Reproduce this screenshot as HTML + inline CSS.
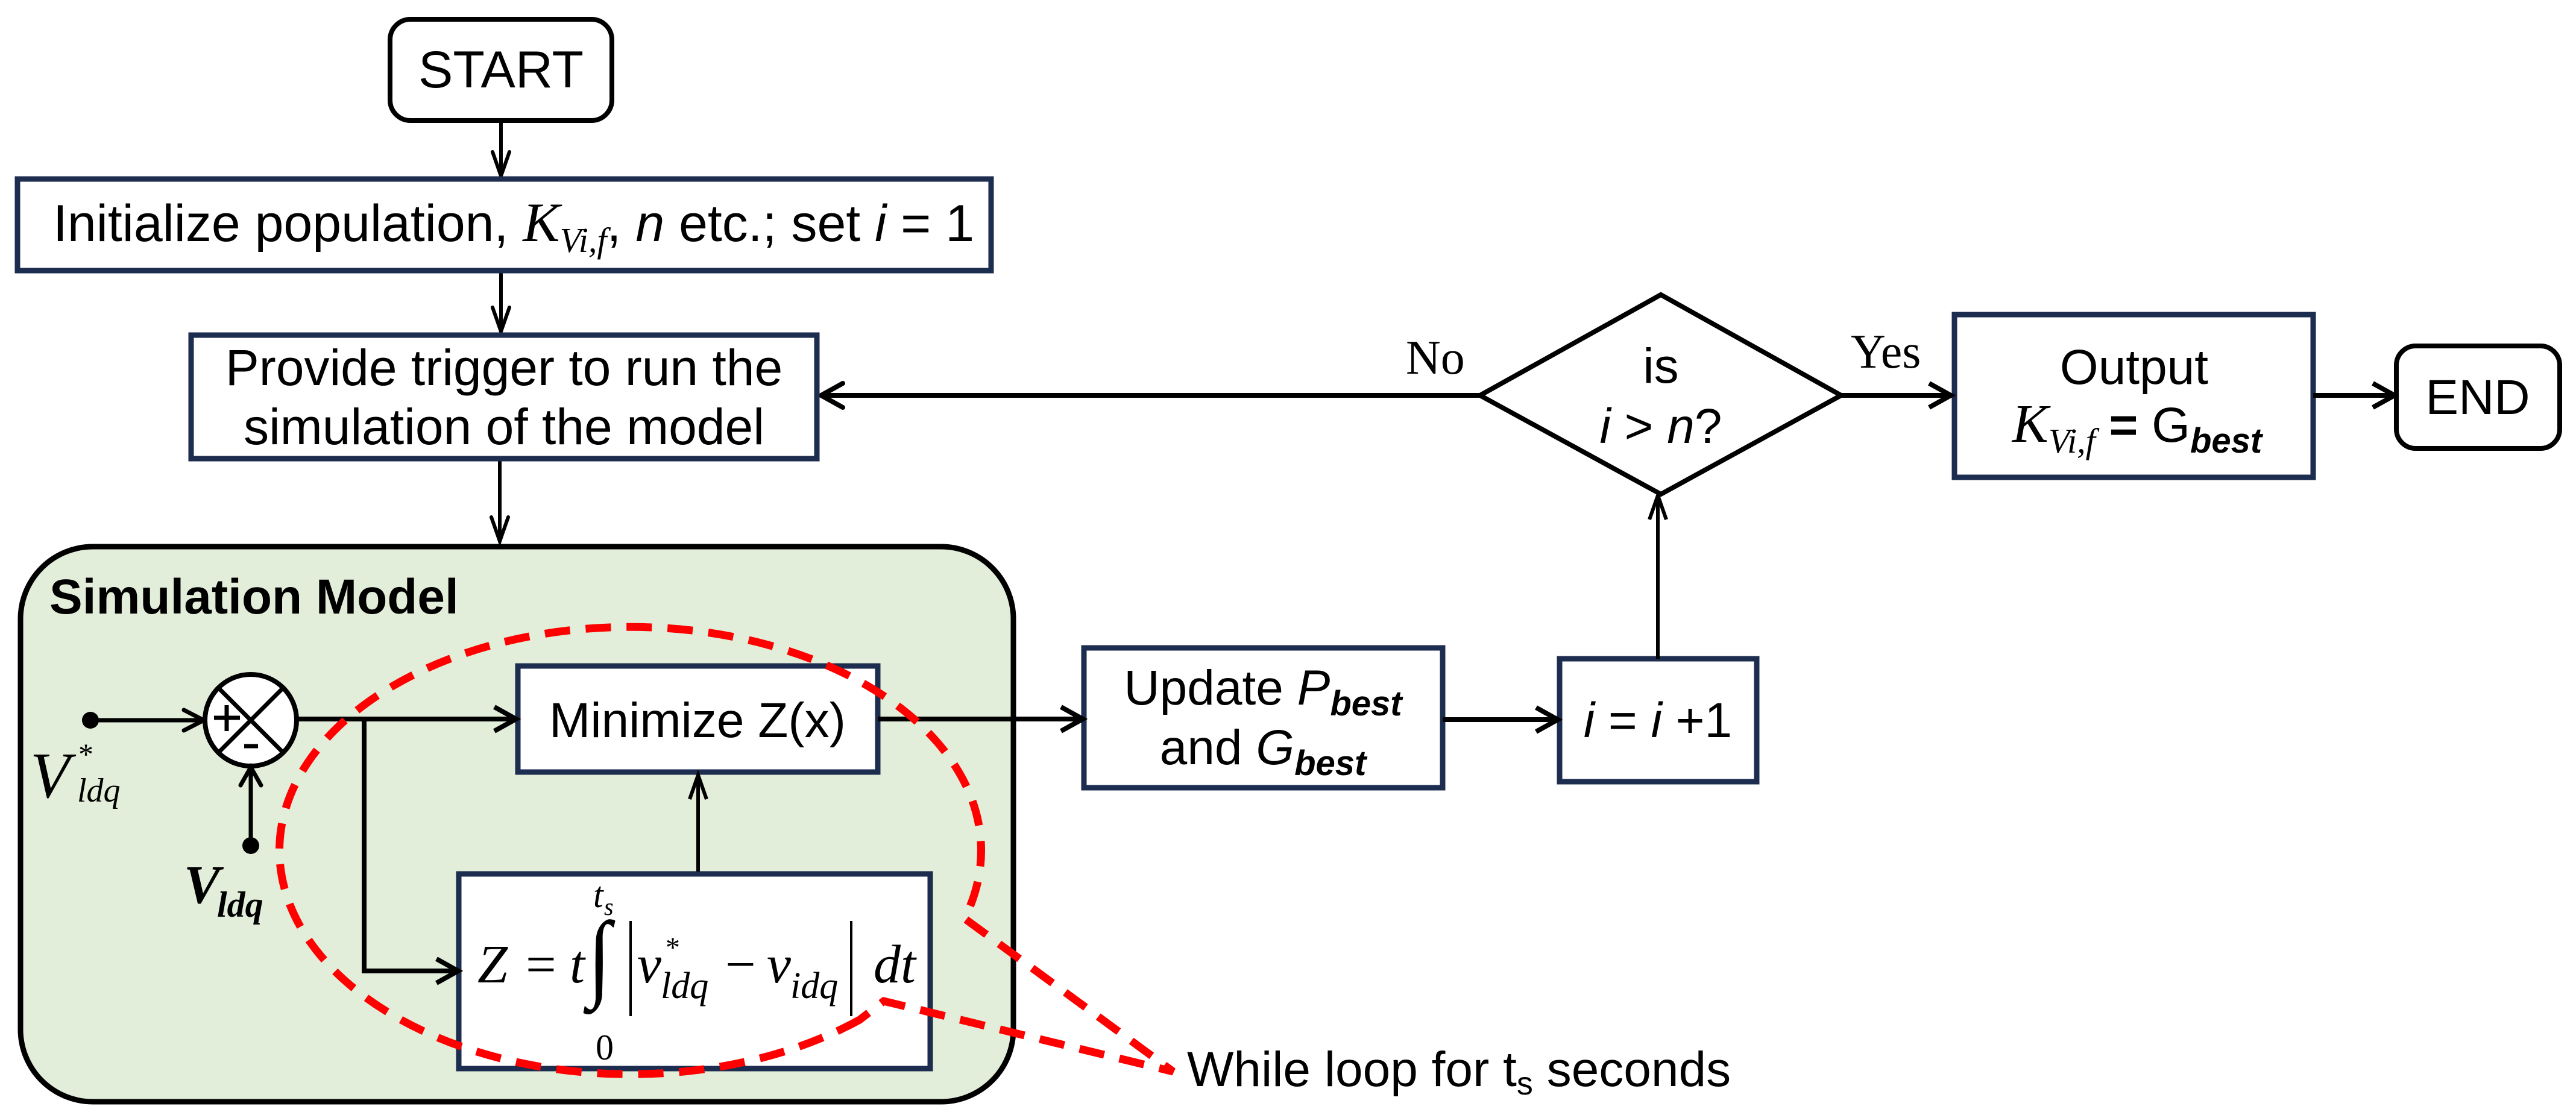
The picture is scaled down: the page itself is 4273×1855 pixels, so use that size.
<!DOCTYPE html>
<html><head><meta charset="utf-8"><style>
html,body{margin:0;padding:0;background:#fff;width:4273px;height:1855px;overflow:hidden}
svg{display:block}
.a{font-family:"Liberation Sans",Arial,sans-serif}
.s{font-family:"Liberation Serif","Times New Roman",serif}
</style></head><body>
<svg width="4273" height="1855" viewBox="0 0 4273 1855" xmlns="http://www.w3.org/2000/svg">
<g fill="none" stroke="#000" stroke-width="6" stroke-linecap="round" stroke-linejoin="miter">
<rect x="647" y="32" width="368" height="168" rx="34" stroke-width="8" fill="#fff"/>
<line x1="831" y1="200" x2="831" y2="290"/><polyline points="817,252 831,292 845,252"/>
<line x1="831" y1="453" x2="831" y2="548"/><polyline points="817,510 831,550 845,510"/>
<line x1="829" y1="765" x2="829" y2="898"/><polyline points="815,858 829,898 843,858"/>
<line x1="2455" y1="656" x2="1365" y2="656" stroke-width="8"/><polyline points="1398,636 1362,656 1398,676" stroke-width="8"/>
</g>
<g stroke="#1c2d4f" stroke-width="9" fill="#fff">
<rect x="29" y="297" width="1615" height="152"/>
<rect x="317" y="556" width="1038" height="205"/>
<rect x="3242" y="522" width="595" height="270"/>
<rect x="1798" y="1075" width="595" height="232"/>
<rect x="2587" y="1093" width="327" height="204"/>
</g>
<rect x="34" y="907" width="1647" height="921" rx="120" fill="#e2eed9" stroke="#000" stroke-width="9"/>
<g stroke="#1c2d4f" stroke-width="9" fill="#fff">
<rect x="859" y="1105" width="597" height="176"/>
<rect x="761" y="1450" width="782" height="323"/>
</g>
<g fill="none" stroke="#000" stroke-width="6">
<polygon points="2755,489 3054,656 2755,820 2455,656" fill="#fff" stroke-width="8"/>
<line x1="3054" y1="656" x2="3232" y2="656" stroke-width="8"/><polyline points="3200,636 3236,656 3200,676" stroke-width="8"/>
<line x1="3837" y1="656" x2="3968" y2="656" stroke-width="8"/><polyline points="3936,636 3972,656 3936,676" stroke-width="8"/>
<rect x="3975" y="574" width="271" height="170" rx="32" stroke-width="8" fill="#fff"/>
<line x1="2750" y1="1093" x2="2750" y2="824"/><polyline points="2736,862 2750,822 2764,862"/>
<line x1="2393" y1="1194" x2="2580" y2="1194" stroke-width="8"/><polyline points="2548,1174 2584,1194 2548,1214" stroke-width="8"/>
<line x1="1456" y1="1193" x2="1792" y2="1193" stroke-width="8"/><polyline points="1760,1173 1796,1193 1760,1213" stroke-width="8"/>
<line x1="150" y1="1195" x2="336" y2="1195" stroke-width="7"/><polyline points="305,1178 338,1195 305,1212" stroke-width="7" stroke-linecap="round"/>
<circle cx="416" cy="1195" r="76" fill="#fff" stroke-width="8"/>
<line x1="362" y1="1141" x2="470" y2="1249" stroke-width="7"/><line x1="470" y1="1141" x2="362" y2="1249" stroke-width="7"/>
<line x1="355" y1="1191" x2="398" y2="1191" stroke-width="7"/><line x1="376" y1="1170" x2="376" y2="1213" stroke-width="7"/>
<line x1="405" y1="1238" x2="428" y2="1238" stroke-width="7"/>
<line x1="416" y1="1403" x2="416" y2="1275" stroke-width="7"/><polyline points="399,1303 416,1273 433,1303" stroke-width="7" stroke-linecap="round"/>
<line x1="492" y1="1193" x2="852" y2="1193" stroke-width="8"/><polyline points="820,1173 856,1193 820,1213" stroke-width="8"/>
<polyline points="604,1193 604,1611 755,1611" stroke-width="8"/><polyline points="724,1591 760,1611 724,1631" stroke-width="8"/>
<line x1="1158" y1="1446" x2="1158" y2="1290" stroke-width="6"/><polyline points="1144,1326 1158,1286 1172,1326"/>
</g>
<circle cx="150" cy="1195" r="14" fill="#000"/>
<circle cx="416" cy="1403" r="14" fill="#000"/>
<g fill="none" stroke="#f00" stroke-width="13" stroke-dasharray="42,26">
<path d="M 1426 1692 A 582 371 0 1 1 1600 1524 L 1946 1778 L 1466 1661 Z"/>
</g>
<g class="a" fill="#000" font-size="86">
<text x="831" y="145" text-anchor="middle">START</text>
<text x="88" y="400">Initialize population, <tspan class="s" font-style="italic" font-size="92">K</tspan><tspan class="s" font-style="italic" font-size="58" dy="18">Vi,f</tspan><tspan dy="-18">, </tspan><tspan font-style="italic">n</tspan> etc.; set <tspan font-style="italic">i</tspan> = 1</text>
<text x="836" y="639" text-anchor="middle" font-size="84">Provide trigger to run the</text>
<text x="836" y="737" text-anchor="middle" font-size="84">simulation of the model</text>
<text x="82" y="1018" font-weight="bold" font-size="82">Simulation Model</text>
<text x="1157" y="1223" text-anchor="middle" font-size="82">Minimize Z(x)</text>
<text x="2095" y="1169" text-anchor="middle" font-size="82">Update <tspan font-style="italic">P</tspan><tspan font-style="italic" font-weight="bold" font-size="58" dy="18">best</tspan></text>
<text x="2095" y="1268" text-anchor="middle" font-size="82">and <tspan font-style="italic">G</tspan><tspan font-style="italic" font-weight="bold" font-size="58" dy="18">best</tspan></text>
<text x="2750" y="1223" text-anchor="middle" font-size="82"><tspan font-style="italic">i</tspan> = <tspan font-style="italic">i</tspan> +1</text>
<text x="2755" y="635" text-anchor="middle" font-size="82">is</text>
<text x="2755" y="735" text-anchor="middle" font-size="82"><tspan font-style="italic">i</tspan> &gt; <tspan font-style="italic">n</tspan>?</text>
<text x="3540" y="637" text-anchor="middle" font-size="82">Output</text>
<text x="3545" y="733" text-anchor="middle" font-size="82"><tspan class="s" font-style="italic" font-size="90">K</tspan><tspan class="s" font-style="italic" font-size="58" dy="18">Vi,f</tspan><tspan dy="-18" font-weight="bold"> = </tspan>G<tspan font-style="italic" font-weight="bold" font-size="58" dy="18">best</tspan></text>
<text x="4110" y="687" text-anchor="middle" font-size="82">END</text>
<text x="1969" y="1802" font-size="82">While loop for t<tspan font-size="54" dy="14">s</tspan><tspan dy="-14"> seconds</tspan></text>
</g>
<g class="s" fill="#000" font-size="80">
<text x="2332" y="620">No</text>
<text x="3070" y="610">Yes</text>
<text x="50" y="1323" font-style="italic" font-size="108">V</text>
<text x="130" y="1268" font-size="50">*</text>
<text x="128" y="1330" font-style="italic" font-size="56">ldq</text>
<text x="305" y="1498" font-style="italic" font-weight="bold" font-size="90">V</text>
<text x="360" y="1521" font-style="italic" font-weight="bold" font-size="60">ldq</text>
<g font-style="italic" font-size="90">
<text x="792" y="1630">Z</text>
<text x="945" y="1630">t</text>
<text x="1057" y="1630">v</text>
<text x="1272" y="1630">v</text>
<text x="1449" y="1630">dt</text>
</g>
<text x="872" y="1630" font-size="90">=</text>
<text x="1203" y="1630" font-size="90">−</text>
<text x="1096" y="1656" font-style="italic" font-size="62">ldq</text>
<text x="1311" y="1656" font-style="italic" font-size="62">idq</text>
<text x="1104" y="1588" font-size="48">*</text>
<text x="984" y="1505" font-style="italic" font-size="60">t</text>
<text x="1002" y="1518" font-style="italic" font-size="40">s</text>
<text x="988" y="1758" font-size="60">0</text>
<text x="0" y="0" font-size="140" transform="translate(975,1640) scale(1,1.15)">∫</text>
</g>
<line x1="1046" y1="1528" x2="1046" y2="1686" stroke="#000" stroke-width="4"/>
<line x1="1412" y1="1528" x2="1412" y2="1686" stroke="#000" stroke-width="4"/>
</svg>
</body></html>
